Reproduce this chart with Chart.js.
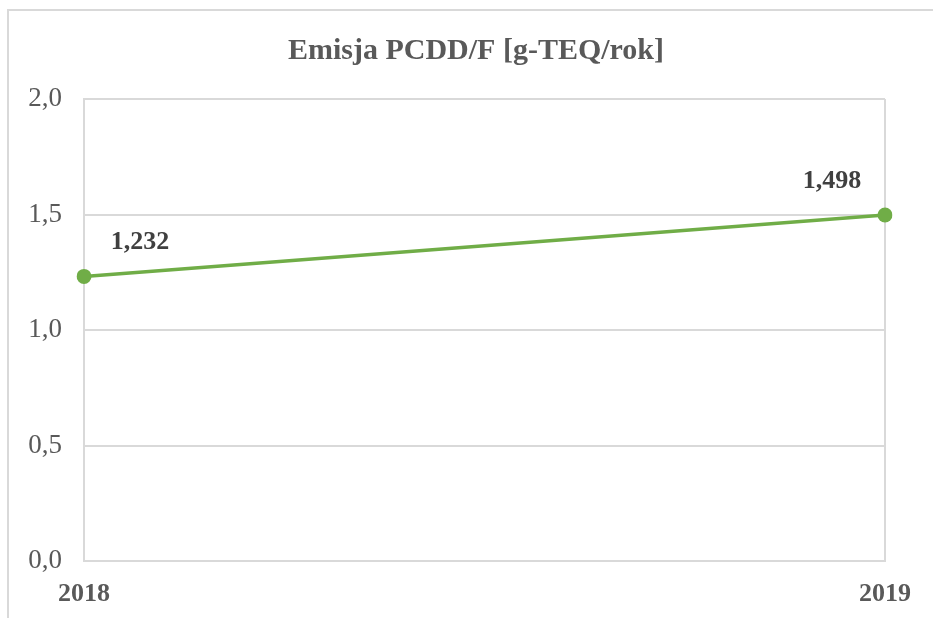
<!DOCTYPE html>
<html>
<head>
<meta charset="utf-8">
<script src="https://cdn.jsdelivr.net/npm/chart.js@4.4.0/dist/chart.umd.min.js"></script>
<style>
  html, body { margin: 0; padding: 0; background: #fff; }
  #wrap { width: 933px; height: 618px; }
</style>
</head>
<body>
<div id="wrap"><canvas id="chart" width="933" height="618"></canvas></div>
<script>
// data
const years = ['2018', '2019'];
const emission = [1.232, 1.498];
const valueLabels = ['1,232', '1,498'];
const chartTitle = 'Emisja PCDD/F [g-TEQ/rok]';

const serif = '"Liberation Serif", "Times New Roman", serif';
const gridGrey = '#d9d9d9';

// outer frame + title
const frame = {
    id: 'frame',
    beforeDraw(chart) {
        const c = chart.ctx;
        c.save();
        c.strokeStyle = gridGrey;
        c.lineWidth = 2;
        c.strokeRect(8, 10, 960, 640);
        c.fillStyle = '#595959';
        c.font = 'bold 30px ' + serif;
        c.textAlign = 'center';
        c.textBaseline = 'middle';
        c.fillText(chartTitle, 476, 51);
        c.restore();
    }
};

// value labels near the points
const valueTags = {
    id: 'valueTags',
    afterDatasetsDraw(chart) {
        const c = chart.ctx;
        const pts = chart.getDatasetMeta(0).data;
        c.save();
        c.fillStyle = '#404040';
        c.font = 'bold 26px ' + serif;
        c.textAlign = 'center';
        c.textBaseline = 'middle';
        pts.forEach(function (p, i) {
            var dx = i === 0 ? 56 : -53;
            c.fillText(valueLabels[i], p.x + dx, p.y - 34);
        });
        c.restore();
    }
};

const ctx = document.getElementById('chart').getContext('2d');
const myChart = new Chart(ctx, {
    type: 'line',
    data: {
        labels: years,
        datasets: [{
            label: 'Emisja',
            data: emission,
            borderColor: '#70ad47',
            backgroundColor: '#70ad47',
            borderWidth: 3.5,
            pointRadius: 7.5,
            pointBorderWidth: 0,
            tension: 0
        }]
    },
    options: {
        responsive: false,
        animation: false,
        layout: { padding: { top: 99, right: 48, left: 0, bottom: 0 } },
        plugins: {
            legend: { display: false },
            title: { display: false },
            tooltip: { enabled: false }
        },
        scales: {
            x: {
                offset: false,
                afterFit(s) { s.height = 57; },
                grid: { color: gridGrey, lineWidth: 2, drawTicks: false },
                border: { color: gridGrey, width: 2 },
                ticks: { color: '#595959', padding: 18, font: { family: serif, size: 26, weight: 'bold' } }
            },
            y: {
                min: 0,
                max: 2,
                afterFit(s) { s.width = 84; },
                grid: { color: gridGrey, lineWidth: 2, drawTicks: false },
                border: { color: gridGrey, width: 2 },
                ticks: {
                    stepSize: 0.5,
                    color: '#595959',
                    padding: 22,
                    font: { family: serif, size: 27 },
                    callback: function (v) { return v.toFixed(1).replace('.', ','); }
                }
            }
        }
    },
    plugins: [frame, valueTags]
});
</script>
</body>
</html>
